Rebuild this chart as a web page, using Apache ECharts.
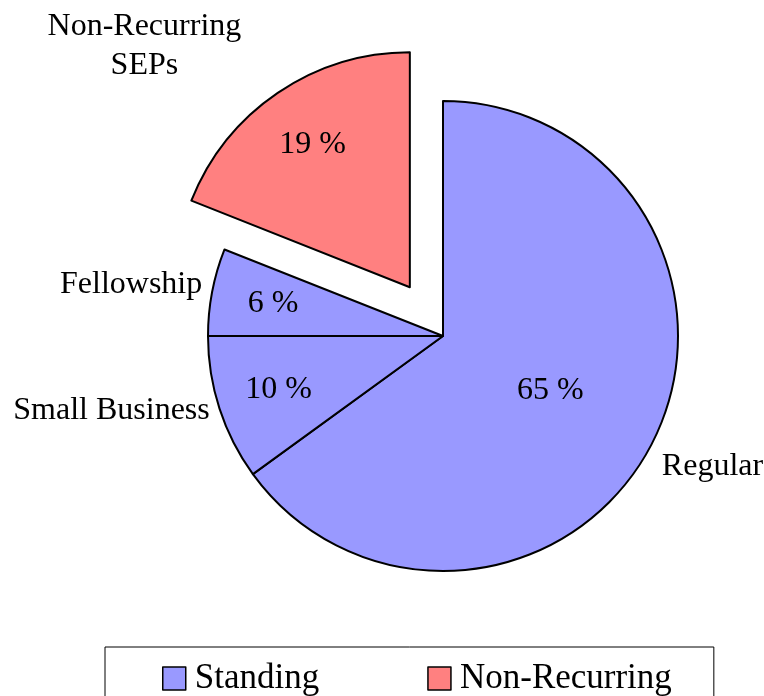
<!DOCTYPE html>
<html>
  <head>
    <meta charset="UTF-8" />
    <title>Standing vs Non-Recurring</title>
    <style>
      html, body { margin: 0; background: #fff; }
      #chart { width: 764px; height: 696px; }
    </style>
    <script src="https://cdn.jsdelivr.net/npm/echarts@6/dist/echarts.min.js"></script>
  </head>
  <body>
    <div id="chart"></div>
    <script>
      // slice data, clockwise from 12 o'clock
      const categories = ["Regular", "Small Business", "Fellowship", "Non-Recurring\nSEPs"];
      const shares = [65, 10, 6, 19];
      const groups = ["Standing", "Standing", "Standing", "Non-Recurring"];
      const groupNames = ["Standing", "Non-Recurring"];
      const groupColors = { "Standing": "#9999ff", "Non-Recurring": "#ff8080" };

      const chart = echarts.init(document.getElementById("chart"));
      const font = "Liberation Serif, Times New Roman, serif";
      const center = [443, 336];
      const R = 235;
      const explode = 59;
      // small vertical nudges of the outer names (px of padding, top / bottom)
      const nameNudge = { "Regular": [44, 0, 0, 0], "Fellowship": [0, 0, 12, 0] };

      // visible = the drawn pie (group names for the legend, fill colours)
      function pieData(visible) {
        return shares.map(function (v, i) {
          const item = {
            name: visible ? groups[i] : categories[i],
            value: v,
            selected: groups[i] === "Non-Recurring",
            itemStyle: visible ? { color: groupColors[groups[i]] } : { color: "rgba(0,0,0,0)", borderWidth: 0 }
          };
          if (groups[i] === "Non-Recurring") item.labelLine = { length: 56 };
          if (!visible && nameNudge[categories[i]]) item.label = { padding: nameNudge[categories[i]] };
          return item;
        });
      }

      const overlay = {
        type: "pie",
        center: center,
        startAngle: 90,
        clockwise: true,
        selectedMode: "single",
        selectedOffset: explode,
        avoidLabelOverlap: false,
        silent: true,
        emphasis: { disabled: true },
        itemStyle: { color: "rgba(0,0,0,0)", borderWidth: 0 }
      };

      const option = {
        animation: false,
        backgroundColor: "#fff",
        legend: {
          data: groupNames,
          left: 105,
          top: 647,
          orient: "horizontal",
          padding: [14, 42, 30, 57],
          itemGap: 108,
          itemWidth: 23,
          itemHeight: 23,
          icon: "rect",
          borderColor: "#000",
          borderWidth: 1,
          borderRadius: 0,
          selectedMode: false,
          itemStyle: { borderColor: "#000", borderWidth: 1.5 },
          textStyle: { fontFamily: font, fontSize: 35, color: "#000", padding: [0, 0, 0, 4] }
        },
        series: [
          {
            // the visible pie, big slice percentage in the middle
            type: "pie",
            center: center,
            radius: R,
            startAngle: 90,
            clockwise: true,
            selectedMode: "single",
            selectedOffset: explode,
            avoidLabelOverlap: false,
            silent: true,
            emphasis: { disabled: true },
            itemStyle: { borderColor: "#000", borderWidth: 2 },
            label: {
              position: "inside",
              fontFamily: font,
              fontSize: 32,
              color: "#000",
              formatter: function (p) {
                return p.value > 50 ? p.value + " %" : "";
              }
            },
            labelLine: { show: false },
            data: pieData(true)
          },
          Object.assign({}, overlay, {
            // percentages of the small slices, nearer the rim
            radius: [0, 340],
            label: {
              position: "inside",
              fontFamily: font,
              fontSize: 32,
              color: "#000",
              formatter: function (p) {
                return p.value > 50 ? "" : p.value + " %";
              }
            },
            labelLine: { show: false },
            data: pieData(false).map(function (d) { delete d.label; return d; })
          }),
          Object.assign({}, overlay, {
            // category names outside the pie
            radius: R,
            label: {
              position: "outside",
              fontFamily: font,
              fontSize: 32,
              lineHeight: 39,
              color: "#000",
              formatter: function (p) {
                const name = categories[p.dataIndex];
                if (name.indexOf("\n") < 0) return name;
                return name.split("\n").map(function (s) { return "{c|" + s + "}"; }).join("\n");
              },
              rich: {
                c: { align: "center", fontFamily: font, fontSize: 32, lineHeight: 39, color: "#000" }
              }
            },
            labelLine: { show: false, length: 5, length2: 0 },
            data: pieData(false)
          })
        ]
      };

      chart.setOption(option);
    </script>
  </body>
</html>
